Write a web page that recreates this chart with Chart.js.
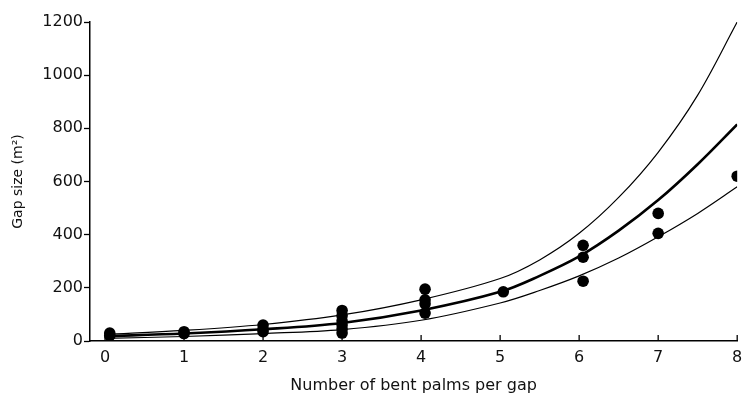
<!DOCTYPE html>
<html>
<head>
<meta charset="utf-8">
<script src="https://cdn.jsdelivr.net/npm/chart.js@4"></script>
<style>
  html, body { margin: 0; padding: 0; background: #fff; }
  #wrap { width: 743px; height: 395px; }
</style>
</head>
<body>
<div id="wrap"><canvas id="gapChart"></canvas></div>
<script>
// observed gaps
const pointX = [0.06, 0.06, 1, 1, 2, 2, 2, 3, 3, 3, 3, 3, 3, 4.05, 4.05, 4.05, 4.05, 5.04, 6.05, 6.05, 6.05, 7, 7, 8]
const pointY = [30, 20, 35, 28, 60, 45, 35, 115, 95, 75, 60, 45, 30, 195, 155, 140, 105, 185, 360, 315, 225, 480, 405, 620]

// fitted curve and its bounds
const curveX = [0, 1, 2, 3, 4, 5, 5.5, 6, 6.5, 7, 7.5, 8]
const upperY = [25, 40, 62, 98, 155, 235, 305, 405, 540, 710, 925, 1200]
const fitY = [18, 28, 44, 68, 115, 185, 245, 318, 415, 530, 665, 815]
const lowerY = [10, 17, 28, 43, 78, 143, 190, 245, 312, 392, 480, 580]

const xTicks = [0, 1, 2, 3, 4, 5, 6, 7, 8]
const yTicks = [0, 200, 400, 600, 800, 1000, 1200]

const FONT = "'DejaVu Sans', sans-serif"

const toXY = (xs, ys) => xs.map((x, i) => ({ x: x, y: ys[i] }))

const curve = (data, width) => ({
  type: "line",
  data: toXY(curveX, data),
  borderColor: "#000",
  borderWidth: width,
  pointRadius: 0,
  fill: false,
  tension: 0.35,
})

// x ticks point up into the plot
const innerTicks = {
  id: "innerTicks",
  afterDraw(chart) {
    const ctx = chart.ctx
    const xs = chart.scales.x
    const bottom = chart.chartArea.bottom
    ctx.save()
    ctx.strokeStyle = "#000"
    ctx.lineWidth = 1.3
    xTicks.forEach((v) => {
      const px = xs.getPixelForValue(v)
      ctx.beginPath()
      ctx.moveTo(px, bottom)
      ctx.lineTo(px, bottom - 6)
      ctx.stroke()
    })
    ctx.restore()
  },
}

new Chart(document.getElementById("gapChart"), {
  type: "scatter",
  data: {
    datasets: [
      curve(upperY, 1.2),
      curve(fitY, 2.6),
      curve(lowerY, 1.2),
      {
        type: "scatter",
        data: toXY(pointX, pointY),
        backgroundColor: "#000",
        borderColor: "#000",
        pointRadius: 5.8,
        borderWidth: 0,
      },
    ],
  },
  options: {
    responsive: true,
    maintainAspectRatio: false,
    animation: false,
    layout: { padding: { left: 0, right: 0, top: 22, bottom: 0 } },
    plugins: {
      legend: { display: false },
      tooltip: { enabled: false },
    },
    scales: {
      x: {
        type: "linear",
        min: -0.19,
        max: 8,
        afterBuildTicks: (scale) => {
          scale.ticks = xTicks.map((v) => ({ value: v }))
        },
        afterFit: (scale) => {
          scale.height = 54
          scale.paddingRight = 0
        },
        grid: { display: true, drawOnChartArea: false, drawTicks: false },
        border: { display: true, color: "#000", width: 1.5 },
        ticks: {
          color: "#111",
          padding: 7,
          maxRotation: 0,
          font: { family: FONT, size: 16 },
        },
        title: {
          display: true,
          text: "Number of bent palms per gap",
          color: "#111",
          font: { family: FONT, size: 16 },
          padding: { top: 6, bottom: 0 },
        },
      },
      y: {
        type: "linear",
        min: 0,
        max: 1200,
        afterBuildTicks: (scale) => {
          scale.ticks = yTicks.map((v) => ({ value: v }))
        },
        afterFit: (scale) => {
          scale.width = 90
        },
        grid: { display: true, drawOnChartArea: false, tickLength: 6, color: "#000", tickWidth: 1.3 },
        border: { display: true, color: "#000", width: 1.5 },
        ticks: {
          color: "#111",
          padding: 1,
          font: { family: FONT, size: 16 },
          callback: (v) => String(v),
        },
        title: {
          display: true,
          text: "Gap size (m²)",
          color: "#111",
          font: { family: FONT, size: 14 },
          padding: { top: 10, bottom: 0 },
        },
      },
    },
  },
  plugins: [innerTicks],
})
</script>
</body>
</html>
